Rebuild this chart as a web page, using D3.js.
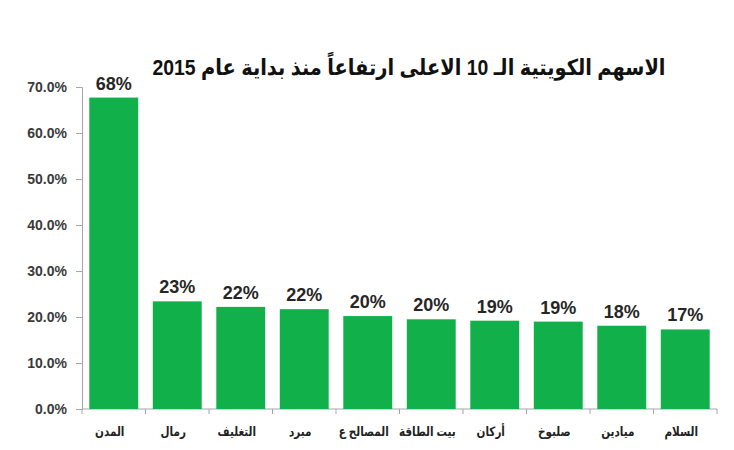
<!DOCTYPE html>
<html>
<head>
<meta charset="utf-8">
<style>
  body { margin: 0; background: #fff; }
  svg text { font-family: "Liberation Sans", Arial, "DejaVu Sans", sans-serif; font-weight: bold; }
</style>
</head>
<body>
<div id="chart"></div>
<script src="https://cdnjs.cloudflare.com/ajax/libs/d3/7.8.5/d3.min.js"></script>
<script>
  // Chart data
  const categories = ["المدن", "رمال", "التغليف", "مبرد", "المصالح ع", "بيت الطاقة", "أركان", "صلبوخ", "ميادين", "السلام"];
  const values = [67.7, 23.4, 22.2, 21.7, 20.2, 19.5, 19.2, 19.0, 18.1, 17.3];
  const yTicks = [0, 10, 20, 30, 40, 50, 60, 70];
  const title = "الاسهم الكويتية الـ 10 الاعلى ارتفاعاً منذ بداية عام 2015";

  const width = 734;
  const height = 450;
  const margin = {top: 87, right: 17, bottom: 41, left: 82};

  const svg = d3.create("svg")
    .attr("width", width)
    .attr("height", height)
    .attr("viewBox", [0, 0, width, height]);

  d3.select("#chart").node().appendChild(svg.node());

  const x = d3.scaleBand()
    .domain(categories)
    .range([margin.left, width - margin.right])
    .paddingInner(0.23)
    .paddingOuter(0.115);

  const y = d3.scaleLinear()
    .domain([0, 70])
    .range([height - margin.bottom, margin.top]);

  // Title, squeezed to the width it has in the original
  svg.append("text")
    .attr("x", 409)
    .attr("y", 74.5)
    .attr("direction", "rtl")
    .attr("text-anchor", "middle")
    .attr("font-size", 22)
    .attr("fill", "#111")
    .attr("textLength", 513)
    .attr("lengthAdjust", "spacingAndGlyphs")
    .text(title);

  // Y axis
  const yAxis = svg.append("g")
    .attr("transform", `translate(${margin.left},0)`)
    .call(d3.axisLeft(y).tickValues(yTicks).tickSize(6).tickPadding(9)
      .tickFormat(d => d.toFixed(1) + "%"));
  yAxis.select(".domain").attr("stroke", "#a6a6a6");
  yAxis.selectAll(".tick line").attr("stroke", "#a6a6a6");
  yAxis.selectAll(".tick text")
    .attr("font-size", 14)
    .attr("fill", "#3a3a3a");

  // X axis line and ticks at band boundaries
  const y0 = y(0);
  const half = x.step() * x.paddingInner() / 2;
  svg.append("line")
    .attr("x1", margin.left).attr("x2", width - margin.right)
    .attr("y1", y0).attr("y2", y0)
    .attr("stroke", "#a6a6a6");
  const bounds = categories.map(c => x(c) - half).concat([width - margin.right]);
  bounds[0] = margin.left;
  svg.append("g").selectAll("line")
    .data(bounds)
    .join("line")
    .attr("x1", d => d).attr("x2", d => d)
    .attr("y1", y0).attr("y2", y0 + 5)
    .attr("stroke", "#a6a6a6");

  // Bars
  svg.append("g").selectAll("rect")
    .data(values)
    .join("rect")
    .attr("x", (d, i) => x(categories[i]))
    .attr("y", d => y(d))
    .attr("width", x.bandwidth())
    .attr("height", d => y0 - y(d))
    .attr("fill", "#12b04b");

  // Value labels
  svg.append("g").selectAll("text")
    .data(values)
    .join("text")
    .attr("x", (d, i) => x(categories[i]) + x.bandwidth() / 2)
    .attr("y", d => y(d) - 8)
    .attr("text-anchor", "middle")
    .attr("font-size", 18)
    .attr("fill", "#262626")
    .text(d => Math.round(d) + "%");

  // Category labels (narrowed a bit, the Arabic fallback font is wide)
  svg.append("g").selectAll("text")
    .data(categories)
    .join("text")
    .attr("x", d => x(d) + x.bandwidth() / 2 - 4)
    .attr("y", y0 + 27)
    .attr("direction", "rtl")
    .attr("text-anchor", "middle")
    .attr("font-size", 13)
    .attr("fill", "#222")
    .text(d => d)
    .each(function() {
      const len = this.getComputedTextLength();
      d3.select(this)
        .attr("textLength", len * 0.8)
        .attr("lengthAdjust", "spacingAndGlyphs");
    });
</script>
</body>
</html>
